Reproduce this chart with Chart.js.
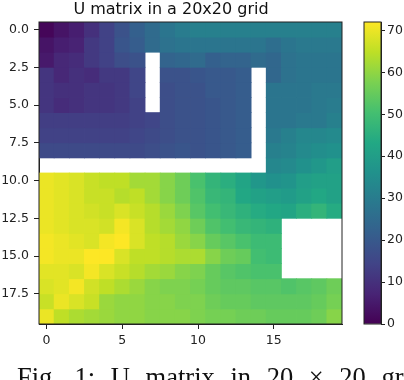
<!DOCTYPE html>
<html>
<head>
<meta charset="utf-8">
<script src="https://cdn.jsdelivr.net/npm/chart.js@4/dist/chart.umd.min.js"></script>
<style>
  html, body { margin: 0; padding: 0; background: #fff; }
  #wrap { position: relative; width: 404px; height: 380px; overflow: hidden; background: #fff; }
  #main { position: absolute; left: 0; top: 0; }
  #cbar { position: absolute; left: 340px; top: 0; }
  #caption { position: absolute; left: 17px; top: 364px; white-space: nowrap;
    font-family: "Liberation Serif", "DejaVu Serif", serif; font-size: 26.5px; line-height: 26.5px;
    word-spacing: 9px; color: #111; }
</style>
</head>
<body>
<div id="wrap">
  <canvas id="main" width="404" height="380"></canvas>
  <canvas id="cbar" width="64" height="380"></canvas>
  <div id="caption">Fig. 1: U matrix in 20 × 20 grid</div>
</div>
<script>
// ---- data (null = empty / white cell) ----
const titleText = "U matrix in a 20x20 grid";
const colIndex = [0,1,2,3,4,5,6,7,8,9,10,11,12,13,14,15,16,17,18,19];
const xTicks = [0, 5, 10, 15];
const yTicks = [0, 2.5, 5, 7.5, 10, 12.5, 15, 17.5];
const cbTicks = [0, 10, 20, 30, 40, 50, 60, 70];
const colorMin = 0;
const colorMax = 72;
const _ = null;
const row00 = [1,4,6,10,14,18,22,25,28,30, 31,31,31,31,31,31,31,31,31,31];
const row01 = [4,6,7,12,14,19,21,25,27,28, 28,28,28,28,28,26,28,29,29,29];
const row02 = [5,8,9,12,14,17,18,_,23,24, 25,22,23,23,25,24,27,28,28,28];
const row03 = [11,8,10,9,12,12,15,_,18,18, 19,20,20,21,_,24,27,28,28,28];
const row04 = [11,10,10,11,11,12,15,_,17,18, 18,20,20,21,_,28,28,28,29,29];
const row05 = [11,9,10,11,11,12,14,_,17,18, 18,19,20,21,_,28,28,28,29,30];
const row06 = [13,13,13,13,13,13,14,15,17,18, 18,19,20,21,_,28,28,29,29,31];
const row07 = [14,14,14,14,14,14,15,16,17,18, 18,19,20,21,_,29,31,33,33,34];
const row08 = [16,16,16,16,16,16,16,17,18,19, 18,19,20,21,_,31,32,34,35,36];
const row09 = [_,_,_,_,_,_,_,_,_,_, _,_,_,_,_,33,34,36,38,40];
const row10 = [70,69,68,66,65,65,62,62,59,56, 51,47,45,42,38,36,37,40,41,41];
const row11 = [70,69,68,66,66,64,65,62,59,56, 52,48,47,43,41,40,39,41,43,41];
const row12 = [70,69,68,67,66,68,66,64,61,58, 53,50,48,46,44,43,42,45,47,44];
const row13 = [70,69,68,68,67,71,68,64,62,60, 56,52,50,48,47,46,_,_,_,_];
const row14 = [71,70,69,68,71,72,68,65,64,61, 59,55,53,51,49,49,_,_,_,_];
const row15 = [71,70,70,72,72,68,65,65,64,63, 63,59,56,55,50,49,_,_,_,_];
const row16 = [69,69,68,71,68,66,64,62,61,59, 58,55,53,52,51,51,_,_,_,_];
const row17 = [68,69,71,67,65,63,61,59,58,58, 57,55,54,54,53,53,52,53,54,56];
const row18 = [66,70,68,66,61,60,60,59,59,58, 58,56,55,55,54,54,54,54,55,57];
const row19 = [70,65,63,62,61,60,60,59,59,59, 58,57,57,56,56,55,55,55,56,59];
const uRows = [row00,row01,row02,row03,row04,row05,row06,row07,row08,row09,
               row10,row11,row12,row13,row14,row15,row16,row17,row18,row19];

// ---- viridis colormap ----
const viridisStops = ["#440154","#482475","#414487","#355f8d","#2a788e","#21918c",
                      "#22a884","#44bf70","#7ad151","#bddf26","#fde725"];
function hexToRgb(h){ return [parseInt(h.slice(1,3),16), parseInt(h.slice(3,5),16), parseInt(h.slice(5,7),16)]; }
const viridisRgb = viridisStops.map(hexToRgb);
function viridis(v){
  let t = (v - colorMin) / (colorMax - colorMin);
  t = Math.max(0, Math.min(1, t));
  const p = t * (viridisRgb.length - 1);
  const i = Math.min(Math.floor(p), viridisRgb.length - 2);
  const f = p - i;
  const a = viridisRgb[i], b = viridisRgb[i+1];
  return "rgb(" + a.map((c,k) => Math.round(c + (b[k]-c)*f)).join(",") + ")";
}

const inkColor = "#222";
const tickFont = { family: "'DejaVu Sans', sans-serif", size: 12.5 };

const framePlugin = {
  id: "frame",
  afterDatasetsDraw(chart) {
    const a = chart.chartArea, ctx = chart.ctx;
    ctx.save();
    ctx.strokeStyle = inkColor;
    ctx.lineWidth = 1;
    ctx.strokeRect(a.left, a.top, a.right - a.left, a.bottom - a.top);
    ctx.restore();
  }
};

const datasets = uRows.map((row, r) => ({
  data: colIndex.filter(c => row[c] !== null).map(c => ({ x: c, y: [r - 0.5, r + 0.5], v: row[c] })),
  backgroundColor: (ctx) => ctx.raw ? viridis(ctx.raw.v) : "transparent",
  borderWidth: 0,
  grouped: false,
  barPercentage: 1,
  categoryPercentage: 1,
  inflateAmount: 0.4
}));

new Chart(document.getElementById("main"), {
  type: "bar",
  data: { datasets },
  plugins: [framePlugin],
  options: {
    responsive: false,
    animation: false,
    events: [],
    devicePixelRatio: 1,
    layout: { padding: { left: 0, right: 62, top: 0, bottom: 0 } },
    plugins: {
      legend: { display: false },
      tooltip: { enabled: false },
      title: {
        display: true, text: titleText, color: "#111",
        font: { family: "'DejaVu Sans', sans-serif", size: 16, weight: "normal" },
        padding: { top: 0, bottom: 2.8 }
      }
    },
    scales: {
      x: {
        type: "linear", min: -0.5, max: 19.5, offset: false,
        grid: { display: true, drawOnChartArea: false, drawTicks: true, tickLength: 5, color: inkColor, offset: false },
        border: { display: true, color: inkColor },
        ticks: { color: inkColor, font: tickFont, padding: 4, maxRotation: 0, callback: v => String(v) },
        afterBuildTicks: s => { s.ticks = xTicks.map(v => ({ value: v })); },
        afterFit: s => { s.height = 56; }
      },
      y: {
        type: "linear", min: -0.5, max: 19.5, reverse: true,
        grid: { display: true, drawOnChartArea: false, drawTicks: true, tickLength: 5, color: inkColor },
        border: { display: true, color: inkColor },
        ticks: { color: inkColor, font: tickFont, padding: 5, callback: v => Number(v).toFixed(1) },
        afterBuildTicks: s => { s.ticks = yTicks.map(v => ({ value: v })); },
        afterFit: s => { s.width = 39; }
      }
    }
  }
});

// ---- colorbar ----
new Chart(document.getElementById("cbar"), {
  type: "bar",
  data: {
    labels: [""],
    datasets: [{
      data: [[colorMin, colorMax]],
      backgroundColor: (ctx) => {
        const chart = ctx.chart;
        const ys = chart.scales.y;
        if (!ys || !chart.chartArea) return viridisStops[5];
        const g = chart.ctx.createLinearGradient(0, ys.getPixelForValue(colorMin), 0, ys.getPixelForValue(colorMax));
        viridisStops.forEach((c, i) => g.addColorStop(i / (viridisStops.length - 1), c));
        return g;
      },
      borderWidth: 0,
      barPercentage: 1,
      categoryPercentage: 1
    }]
  },
  plugins: [framePlugin],
  options: {
    responsive: false,
    animation: false,
    events: [],
    devicePixelRatio: 1,
    layout: { padding: { left: 24, right: 0, top: 22, bottom: 56 } },
    plugins: { legend: { display: false }, tooltip: { enabled: false }, title: { display: false } },
    scales: {
      x: { display: false },
      y: {
        type: "linear", position: "right", min: colorMin, max: colorMax,
        grid: { display: true, drawOnChartArea: false, drawTicks: true, tickLength: 4, color: inkColor },
        border: { display: true, color: inkColor },
        ticks: { color: inkColor, font: tickFont, padding: 2, callback: v => String(v) },
        afterBuildTicks: s => { s.ticks = cbTicks.map(v => ({ value: v })); },
        afterFit: s => { s.width = 23; }
      }
    }
  }
});
</script>
</body>
</html>
